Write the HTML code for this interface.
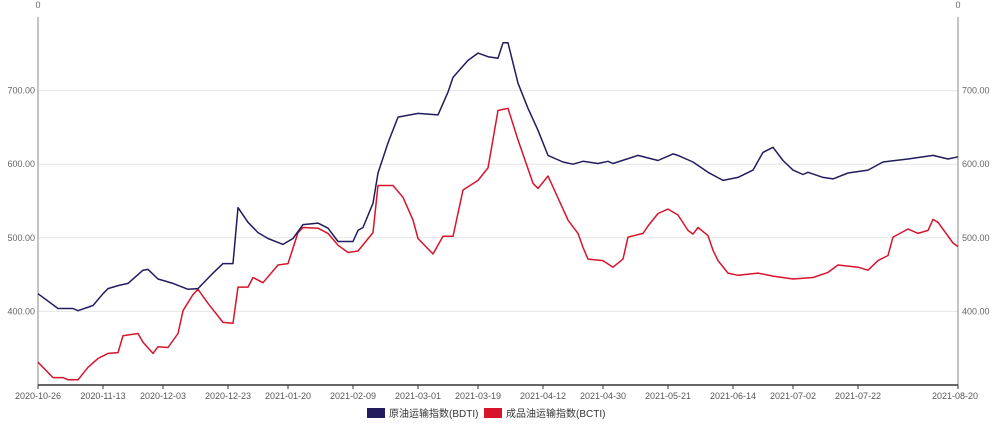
<!DOCTYPE html>
<html><head><meta charset="utf-8"><style>
body{margin:0;background:#fff;font-family:"Liberation Sans","Noto Sans CJK SC",sans-serif;}
svg text{font-family:"Liberation Sans","Noto Sans CJK SC",sans-serif;}
</style></head><body>
<svg id="chart" width="1000" height="424" xmlns="http://www.w3.org/2000/svg"></svg>
<script>
const bdtiIdx=[0,4,7,8,11,13,14,16,18,21,22,24,27,30,32,33,35,37,39,40,42,44,46,49,51,53,56,58,60,63,64,65,67,68,70,72,76,80,82,83,86,88,90,92,93,94,96,98,100,102,105,107,109,112,114,115,120,124,127,128,131,134,137,140,143,145,147,149,151,153,154,157,159,162,166,169,174,179,182,184];
const bdtiVal=[424,404,404,401,408,424,431,435,438,456,457,444,438,430,431,438,452,465,465,541,521,507,499,491,499,518,520,513,495,495,510,514,547,588,629,664,669,667,698,718,741,751,746,744,765,765,710,676,646,612,603,600,604,601,604,601,612,605,614,612,603,589,578,582,592,616,623,605,592,586,589,582,580,588,592,603,607,612,607,610];
const bctiIdx=[0,3,5,6,8,10,12,14,16,17,20,21,23,24,26,28,29,31,32,34,37,39,40,42,43,45,48,50,52,53,56,58,60,62,64,67,68,71,73,75,76,79,81,83,85,88,90,92,94,96,99,100,102,106,108,109,110,113,115,117,118,121,122,124,126,128,130,131,132,134,135,136,138,140,144,147,151,155,158,160,164,166,168,170,171,174,176,178,179,180,183,184];
const bctiVal=[331,310,310,307,307,324,336,343,344,367,370,358,343,352,351,370,401,423,430,411,385,384,433,433,446,439,463,465,507,514,513,506,490,480,482,507,571,571,555,524,499,478,502,502,565,578,595,673,676,633,574,567,584,524,506,487,471,469,460,471,501,506,516,533,539,531,510,505,514,503,483,469,452,449,452,448,444,446,453,463,460,456,469,476,501,512,506,510,525,521,493,488];
const xLabels=["2020-10-26","2020-11-13","2020-12-03","2020-12-23","2021-01-20","2021-02-09","2021-03-01","2021-03-19","2021-04-12","2021-04-30","2021-05-21","2021-06-14","2021-07-02","2021-07-22","2021-08-20"];
const xLabelIdx=[0,13,25,38,50,63,76,88,101,113,126,139,151,164,184];
const yTicks=[400,500,600,700];
const L=38,R=958,T=17,B=385,NMAX=184,YMIN=300,YMAX=800;
const xs=i=>L+(R-L)*i/NMAX;
const ys=v=>B-(B-T)*(v-YMIN)/(YMAX-YMIN);
const svg=document.getElementById('chart');
const NS='http://www.w3.org/2000/svg';
function mk(tag,attrs,parent){const e=document.createElementNS(NS,tag);for(const k in attrs)e.setAttribute(k,attrs[k]);(parent||svg).appendChild(e);return e;}
yTicks.forEach(v=>{
 const g=mk('line',{x1:L,x2:R,y1:ys(v),y2:ys(v),stroke:'#e6e6e6','stroke-width':1});
 
 
 const t1=mk('text',{x:L-3,y:ys(v)+3,'font-size':9,fill:'#666','text-anchor':'end'});t1.textContent=v.toFixed(2);
 
 
 const t2=mk('text',{x:R+4,y:ys(v)+3,'font-size':9,fill:'#666','text-anchor':'start'});t2.textContent=v.toFixed(2);
 
 
});
const al=mk('line',{x1:L,x2:L,y1:T,y2:B,stroke:'#888'});


const ar=mk('line',{x1:R,x2:R,y1:T,y2:B,stroke:'#888'});


const ab=mk('line',{x1:L,x2:R,y1:B,y2:B,stroke:'#333','stroke-width':1.5});


[[L,'start'],[R,'end']].forEach(([x,a])=>{
 const t=mk('text',{x:x,y:8,'font-size':9,fill:'#666','text-anchor':'middle'});t.textContent='0';
 
 
});
xLabels.forEach((lab,k)=>{
 const x=xs(xLabelIdx[k]);
 const tk=mk('line',{x1:x,x2:x,y1:B,y2:B+4,stroke:'#333'});
 
 
 const t=mk('text',{x:x,y:399,'font-size':9,fill:'#555','text-anchor':k==xLabels.length-1?'end':'middle'});t.textContent=lab;
 if(k==xLabels.length-1)t.setAttribute('x',x+20);
 if(k==0)t.setAttribute('x',x);
 
 
});
function line(idx,val,color,name){
 const d=idx.map((i,k)=>(k?'L':'M')+xs(i).toFixed(1)+' '+ys(val[k]).toFixed(1)).join(' ');
 const p=mk('path',{d:d,fill:'none',stroke:color,'stroke-width':1.5,'stroke-linejoin':'round'});
 
 
}
line(bctiIdx,bctiVal,'#d7142b','bcti-line');
line(bdtiIdx,bdtiVal,'#211c5e','bdti-line');
const r1=mk('rect',{x:367,y:408,width:18,height:10,fill:'#211c5e'});


const l1=mk('text',{x:389,y:417,'font-size':10,fill:'#333'});l1.textContent='原油运输指数(BDTI)';


const r2=mk('rect',{x:484,y:408,width:18,height:10,fill:'#d7142b'});


const l2=mk('text',{x:506,y:417,'font-size':10,fill:'#333'});l2.textContent='成品油运输指数(BCTI)';


</script>
</body></html>
